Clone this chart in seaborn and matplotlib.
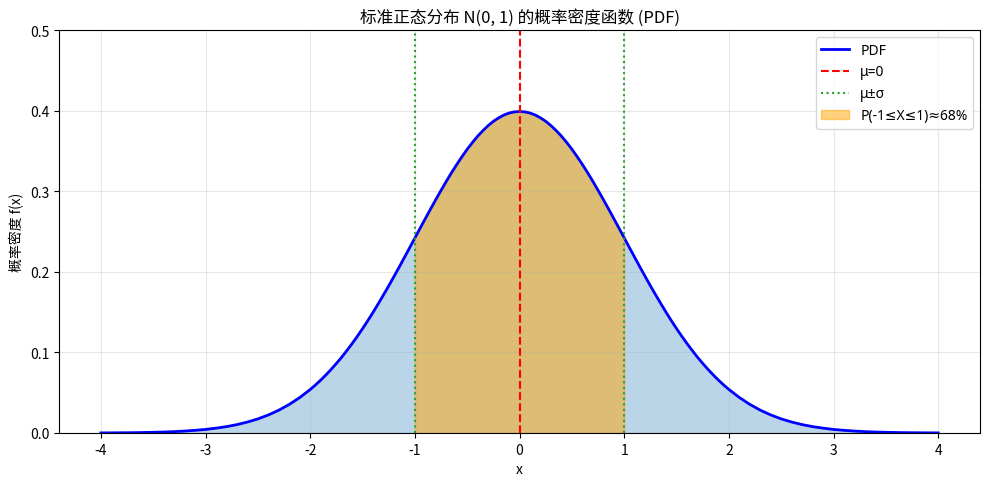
import numpy as np
import pandas as pd
import matplotlib
matplotlib.use("Agg")
import matplotlib.pyplot as plt
import seaborn as sns

# Data (standard normal density)
x_vals = [-4.0, -3.9, -3.8, -3.7, -3.6, -3.5, -3.4, -3.3, -3.2, -3.1,
          -3.0, -2.9, -2.8, -2.7, -2.6, -2.5, -2.4, -2.3, -2.2, -2.1,
          -2.0, -1.95, -1.9, -1.85, -1.8, -1.75, -1.7, -1.65, -1.6, -1.55,
          -1.5, -1.45, -1.4, -1.35, -1.3, -1.25, -1.2, -1.15, -1.1, -1.05,
          -1.0, -0.95, -0.9, -0.85, -0.8, -0.75, -0.7, -0.65, -0.6, -0.55,
          -0.5, -0.45, -0.4, -0.35, -0.3, -0.25, -0.2, -0.15, -0.1, -0.05,
          0.0,
          0.05, 0.1, 0.15, 0.2, 0.25, 0.3, 0.35, 0.4, 0.45, 0.5,
          0.55, 0.6, 0.65, 0.7, 0.75, 0.8, 0.85, 0.9, 0.95, 1.0,
          1.05, 1.1, 1.15, 1.2, 1.25, 1.3, 1.35, 1.4, 1.45, 1.5,
          1.55, 1.6, 1.65, 1.7, 1.75, 1.8, 1.85, 1.9, 1.95, 2.0,
          2.1, 2.2, 2.3, 2.4, 2.5, 2.6, 2.7, 2.8, 2.9, 3.0,
          3.1, 3.2, 3.3, 3.4, 3.5, 3.6, 3.7, 3.8, 3.9, 4.0]
density = [0.0001, 0.0002, 0.0003, 0.0004, 0.0006, 0.0009, 0.0012, 0.0017, 0.0024, 0.0033,
           0.0044, 0.0060, 0.0079, 0.0104, 0.0136, 0.0175, 0.0224, 0.0283, 0.0355, 0.0440,
           0.0540, 0.0596, 0.0656, 0.0721, 0.0790, 0.0863, 0.0940, 0.1023, 0.1109, 0.1200,
           0.1295, 0.1394, 0.1497, 0.1604, 0.1714, 0.1826, 0.1942, 0.2059, 0.2179, 0.2299,
           0.2420, 0.2541, 0.2661, 0.2780, 0.2897, 0.3011, 0.3123, 0.3230, 0.3332, 0.3429,
           0.3521, 0.3605, 0.3683, 0.3752, 0.3814, 0.3867, 0.3910, 0.3945, 0.3970, 0.3984,
           0.3989,
           0.3984, 0.3970, 0.3945, 0.3910, 0.3867, 0.3814, 0.3752, 0.3683, 0.3605, 0.3521,
           0.3429, 0.3332, 0.3230, 0.3123, 0.3011, 0.2897, 0.2780, 0.2661, 0.2541, 0.2420,
           0.2299, 0.2179, 0.2059, 0.1942, 0.1826, 0.1714, 0.1604, 0.1497, 0.1394, 0.1295,
           0.1200, 0.1109, 0.1023, 0.0940, 0.0863, 0.0790, 0.0721, 0.0656, 0.0596, 0.0540,
           0.0440, 0.0355, 0.0283, 0.0224, 0.0175, 0.0136, 0.0104, 0.0079, 0.0060, 0.0044,
           0.0033, 0.0024, 0.0017, 0.0012, 0.0009, 0.0006, 0.0004, 0.0003, 0.0002, 0.0001]
mu = 0
sigma = 1

plt.rcParams['font.family'] = ['Noto Sans CJK SC', 'DejaVu Sans']
plt.rcParams['axes.unicode_minus'] = False

df = pd.DataFrame({"x": x_vals, "pdf": density})

fig, ax = plt.subplots(figsize=(9.89, 4.89), dpi=100)
sns.lineplot(data=df, x="x", y="pdf", color="blue", linewidth=2, label="PDF", ax=ax)
ax.fill_between(df["x"], df["pdf"], alpha=0.3, color="#1f77b4")
ax.axvline(mu, color="red", linestyle="--", linewidth=1.5, label="μ=0")
ax.axvline(mu - sigma, color="#2ca02c", linestyle=":", linewidth=1.5, label="μ±σ")
ax.axvline(mu + sigma, color="#2ca02c", linestyle=":", linewidth=1.5)
mask = (df["x"] >= mu - sigma) & (df["x"] <= mu + sigma)
ax.fill_between(df["x"][mask], df["pdf"][mask], alpha=0.5, color="orange",
                label="P(-1≤X≤1)≈68%")

ax.set_ylim(0, 0.5)
ax.set_title("标准正态分布 N(0, 1) 的概率密度函数 (PDF)", fontsize=12)
ax.set_xlabel("x")
ax.set_ylabel("概率密度 f(x)")
ax.grid(True, alpha=0.3)
ax.legend(loc="upper right", prop={"family": ["Noto Sans", "DejaVu Sans"]})
fig.subplots_adjust(left=0.0597, right=0.991, top=0.9366, bottom=0.1125)
fig.savefig("out.png", dpi=100)
